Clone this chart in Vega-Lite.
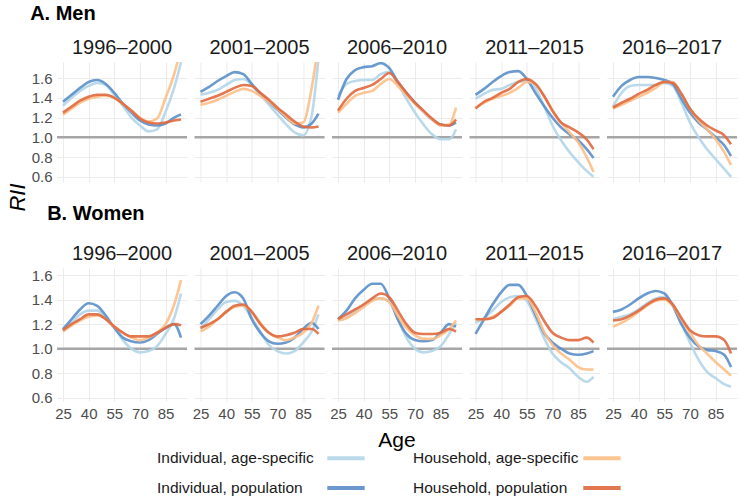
{
"$schema":"https://vega.github.io/schema/vega-lite/v6.json",
"padding":{"left":6,"right":2,"top":4,"bottom":0},
"config":{
 "view":{"stroke":null},
 "font":"Liberation Sans",
 "axis":{"grid":true,"gridColor":"#ebebeb","gridWidth":1,"domain":false,"ticks":false,"labelOverlap":false,"labelSeparation":0,"labelFont":"Liberation Sans","labelFontSize":15,"labelColor":"#4d4d4d","titleFont":"Liberation Sans","titleColor":"#000000","titleFontWeight":"normal"},
 "header":{"labelFont":"Liberation Sans","labelFontSize":20,"labelColor":"#1a1a1a","labelPadding":4,"titleFont":"Liberation Sans","titleFontSize":21,"titleColor":"#000000","titleFontWeight":"normal"},
 "title":{"font":"Liberation Sans","fontSize":20,"fontWeight":"bold","anchor":"start","color":"#000000"}
},
"datasets":{"rii":[
{"sex":"Men","period":"1996–2000","age":25,"Individual, age-specific":1.32,"Individual, population":1.36,"Household, age-specific":1.23,"Household, population":1.25},
{"sex":"Men","period":"1996–2000","age":30,"Individual, age-specific":1.40,"Individual, population":1.43,"Household, age-specific":1.29,"Household, population":1.31},
{"sex":"Men","period":"1996–2000","age":35,"Individual, age-specific":1.47,"Individual, population":1.50,"Household, age-specific":1.35,"Household, population":1.37},
{"sex":"Men","period":"1996–2000","age":40,"Individual, age-specific":1.52,"Individual, population":1.56,"Household, age-specific":1.39,"Household, population":1.41},
{"sex":"Men","period":"1996–2000","age":45,"Individual, age-specific":1.55,"Individual, population":1.58,"Household, age-specific":1.41,"Household, population":1.43},
{"sex":"Men","period":"1996–2000","age":50,"Individual, age-specific":1.53,"Individual, population":1.54,"Household, age-specific":1.42,"Household, population":1.43},
{"sex":"Men","period":"1996–2000","age":55,"Individual, age-specific":1.43,"Individual, population":1.45,"Household, age-specific":1.40,"Household, population":1.40},
{"sex":"Men","period":"1996–2000","age":60,"Individual, age-specific":1.32,"Individual, population":1.34,"Household, age-specific":1.34,"Household, population":1.34},
{"sex":"Men","period":"1996–2000","age":65,"Individual, age-specific":1.20,"Individual, population":1.25,"Household, age-specific":1.27,"Household, population":1.27},
{"sex":"Men","period":"1996–2000","age":70,"Individual, age-specific":1.12,"Individual, population":1.17,"Household, age-specific":1.20,"Household, population":1.19},
{"sex":"Men","period":"1996–2000","age":75,"Individual, age-specific":1.06,"Individual, population":1.13,"Household, age-specific":1.16,"Household, population":1.15},
{"sex":"Men","period":"1996–2000","age":80,"Individual, age-specific":1.08,"Individual, population":1.12,"Household, age-specific":1.19,"Household, population":1.14},
{"sex":"Men","period":"1996–2000","age":85,"Individual, age-specific":1.26,"Individual, population":1.14,"Household, age-specific":1.40,"Household, population":1.15},
{"sex":"Men","period":"1996–2000","age":90,"Individual, age-specific":1.50,"Individual, population":1.20,"Household, age-specific":1.64,"Household, population":1.17},
{"sex":"Men","period":"1996–2000","age":94,"Individual, age-specific":1.76,"Individual, population":1.23,"Household, age-specific":1.90,"Household, population":1.18},
{"sex":"Men","period":"2001–2005","age":25,"Individual, age-specific":1.43,"Individual, population":1.46,"Household, age-specific":1.33,"Household, population":1.36},
{"sex":"Men","period":"2001–2005","age":30,"Individual, age-specific":1.45,"Individual, population":1.51,"Household, age-specific":1.35,"Household, population":1.39},
{"sex":"Men","period":"2001–2005","age":35,"Individual, age-specific":1.48,"Individual, population":1.57,"Household, age-specific":1.38,"Household, population":1.42},
{"sex":"Men","period":"2001–2005","age":40,"Individual, age-specific":1.53,"Individual, population":1.62,"Household, age-specific":1.42,"Household, population":1.46},
{"sex":"Men","period":"2001–2005","age":45,"Individual, age-specific":1.58,"Individual, population":1.66,"Household, age-specific":1.46,"Household, population":1.50},
{"sex":"Men","period":"2001–2005","age":50,"Individual, age-specific":1.59,"Individual, population":1.64,"Household, age-specific":1.49,"Household, population":1.53},
{"sex":"Men","period":"2001–2005","age":55,"Individual, age-specific":1.53,"Individual, population":1.54,"Household, age-specific":1.47,"Household, population":1.52},
{"sex":"Men","period":"2001–2005","age":60,"Individual, age-specific":1.43,"Individual, population":1.44,"Household, age-specific":1.42,"Household, population":1.45},
{"sex":"Men","period":"2001–2005","age":65,"Individual, age-specific":1.33,"Individual, population":1.36,"Household, age-specific":1.36,"Household, population":1.38},
{"sex":"Men","period":"2001–2005","age":70,"Individual, age-specific":1.23,"Individual, population":1.28,"Household, age-specific":1.29,"Household, population":1.30},
{"sex":"Men","period":"2001–2005","age":75,"Individual, age-specific":1.13,"Individual, population":1.20,"Household, age-specific":1.21,"Household, population":1.23},
{"sex":"Men","period":"2001–2005","age":80,"Individual, age-specific":1.05,"Individual, population":1.13,"Household, age-specific":1.14,"Household, population":1.16},
{"sex":"Men","period":"2001–2005","age":85,"Individual, age-specific":1.02,"Individual, population":1.10,"Household, age-specific":1.15,"Household, population":1.11},
{"sex":"Men","period":"2001–2005","age":90,"Individual, age-specific":1.22,"Individual, population":1.14,"Household, age-specific":1.50,"Household, population":1.10},
{"sex":"Men","period":"2001–2005","age":94,"Individual, age-specific":1.80,"Individual, population":1.24,"Household, age-specific":1.95,"Household, population":1.11},
{"sex":"Men","period":"2006–2010","age":25,"Individual, age-specific":1.42,"Individual, population":1.38,"Household, age-specific":1.25,"Household, population":1.27},
{"sex":"Men","period":"2006–2010","age":30,"Individual, age-specific":1.54,"Individual, population":1.59,"Household, age-specific":1.34,"Household, population":1.39},
{"sex":"Men","period":"2006–2010","age":35,"Individual, age-specific":1.57,"Individual, population":1.68,"Household, age-specific":1.42,"Household, population":1.47},
{"sex":"Men","period":"2006–2010","age":40,"Individual, age-specific":1.58,"Individual, population":1.71,"Household, age-specific":1.45,"Household, population":1.50},
{"sex":"Men","period":"2006–2010","age":45,"Individual, age-specific":1.58,"Individual, population":1.72,"Household, age-specific":1.47,"Household, population":1.53},
{"sex":"Men","period":"2006–2010","age":50,"Individual, age-specific":1.64,"Individual, population":1.75,"Household, age-specific":1.54,"Household, population":1.59},
{"sex":"Men","period":"2006–2010","age":55,"Individual, age-specific":1.66,"Individual, population":1.70,"Household, age-specific":1.59,"Household, population":1.65},
{"sex":"Men","period":"2006–2010","age":60,"Individual, age-specific":1.54,"Individual, population":1.56,"Household, age-specific":1.52,"Household, population":1.56},
{"sex":"Men","period":"2006–2010","age":65,"Individual, age-specific":1.39,"Individual, population":1.45,"Household, age-specific":1.43,"Household, population":1.45},
{"sex":"Men","period":"2006–2010","age":70,"Individual, age-specific":1.25,"Individual, population":1.35,"Household, age-specific":1.34,"Household, population":1.35},
{"sex":"Men","period":"2006–2010","age":75,"Individual, age-specific":1.13,"Individual, population":1.26,"Household, age-specific":1.26,"Household, population":1.27},
{"sex":"Men","period":"2006–2010","age":80,"Individual, age-specific":1.03,"Individual, population":1.18,"Household, age-specific":1.18,"Household, population":1.19},
{"sex":"Men","period":"2006–2010","age":85,"Individual, age-specific":0.98,"Individual, population":1.13,"Household, age-specific":1.12,"Household, population":1.13},
{"sex":"Men","period":"2006–2010","age":90,"Individual, age-specific":0.98,"Individual, population":1.12,"Household, age-specific":1.13,"Household, population":1.12},
{"sex":"Men","period":"2006–2010","age":94,"Individual, age-specific":1.08,"Individual, population":1.15,"Household, age-specific":1.30,"Household, population":1.18},
{"sex":"Men","period":"2011–2015","age":25,"Individual, age-specific":1.39,"Individual, population":1.43,"Household, age-specific":1.30,"Household, population":1.29},
{"sex":"Men","period":"2011–2015","age":30,"Individual, age-specific":1.44,"Individual, population":1.49,"Household, age-specific":1.35,"Household, population":1.36},
{"sex":"Men","period":"2011–2015","age":35,"Individual, age-specific":1.48,"Individual, population":1.56,"Household, age-specific":1.39,"Household, population":1.40},
{"sex":"Men","period":"2011–2015","age":40,"Individual, age-specific":1.49,"Individual, population":1.62,"Household, age-specific":1.42,"Household, population":1.45},
{"sex":"Men","period":"2011–2015","age":45,"Individual, age-specific":1.53,"Individual, population":1.66,"Household, age-specific":1.45,"Household, population":1.49},
{"sex":"Men","period":"2011–2015","age":50,"Individual, age-specific":1.56,"Individual, population":1.67,"Household, age-specific":1.50,"Household, population":1.56},
{"sex":"Men","period":"2011–2015","age":55,"Individual, age-specific":1.57,"Individual, population":1.59,"Household, age-specific":1.56,"Household, population":1.59},
{"sex":"Men","period":"2011–2015","age":60,"Individual, age-specific":1.50,"Individual, population":1.45,"Household, age-specific":1.54,"Household, population":1.54},
{"sex":"Men","period":"2011–2015","age":65,"Individual, age-specific":1.32,"Individual, population":1.32,"Household, age-specific":1.42,"Household, population":1.42},
{"sex":"Men","period":"2011–2015","age":70,"Individual, age-specific":1.12,"Individual, population":1.20,"Household, age-specific":1.27,"Household, population":1.27},
{"sex":"Men","period":"2011–2015","age":75,"Individual, age-specific":0.97,"Individual, population":1.10,"Household, age-specific":1.15,"Household, population":1.15},
{"sex":"Men","period":"2011–2015","age":80,"Individual, age-specific":0.85,"Individual, population":1.03,"Household, age-specific":1.05,"Household, population":1.10},
{"sex":"Men","period":"2011–2015","age":85,"Individual, age-specific":0.75,"Individual, population":0.97,"Household, age-specific":0.95,"Household, population":1.05},
{"sex":"Men","period":"2011–2015","age":90,"Individual, age-specific":0.66,"Individual, population":0.88,"Household, age-specific":0.80,"Household, population":0.98},
{"sex":"Men","period":"2011–2015","age":94,"Individual, age-specific":0.60,"Individual, population":0.79,"Household, age-specific":0.65,"Household, population":0.88},
{"sex":"Men","period":"2016–2017","age":25,"Individual, age-specific":1.31,"Individual, population":1.41,"Household, age-specific":1.29,"Household, population":1.30},
{"sex":"Men","period":"2016–2017","age":30,"Individual, age-specific":1.45,"Individual, population":1.52,"Household, age-specific":1.33,"Household, population":1.35},
{"sex":"Men","period":"2016–2017","age":35,"Individual, age-specific":1.52,"Individual, population":1.58,"Household, age-specific":1.37,"Household, population":1.39},
{"sex":"Men","period":"2016–2017","age":40,"Individual, age-specific":1.53,"Individual, population":1.61,"Household, age-specific":1.41,"Household, population":1.44},
{"sex":"Men","period":"2016–2017","age":45,"Individual, age-specific":1.53,"Individual, population":1.61,"Household, age-specific":1.45,"Household, population":1.48},
{"sex":"Men","period":"2016–2017","age":50,"Individual, age-specific":1.53,"Individual, population":1.60,"Household, age-specific":1.50,"Household, population":1.53},
{"sex":"Men","period":"2016–2017","age":55,"Individual, age-specific":1.55,"Individual, population":1.58,"Household, age-specific":1.56,"Household, population":1.56},
{"sex":"Men","period":"2016–2017","age":60,"Individual, age-specific":1.52,"Individual, population":1.54,"Household, age-specific":1.56,"Household, population":1.55},
{"sex":"Men","period":"2016–2017","age":65,"Individual, age-specific":1.35,"Individual, population":1.39,"Household, age-specific":1.44,"Household, population":1.44},
{"sex":"Men","period":"2016–2017","age":70,"Individual, age-specific":1.15,"Individual, population":1.25,"Household, age-specific":1.29,"Household, population":1.29},
{"sex":"Men","period":"2016–2017","age":75,"Individual, age-specific":1.00,"Individual, population":1.15,"Household, age-specific":1.17,"Household, population":1.19},
{"sex":"Men","period":"2016–2017","age":80,"Individual, age-specific":0.88,"Individual, population":1.08,"Household, age-specific":1.08,"Household, population":1.12},
{"sex":"Men","period":"2016–2017","age":85,"Individual, age-specific":0.78,"Individual, population":1.00,"Household, age-specific":0.98,"Household, population":1.07},
{"sex":"Men","period":"2016–2017","age":90,"Individual, age-specific":0.68,"Individual, population":0.92,"Household, age-specific":0.85,"Household, population":1.02},
{"sex":"Men","period":"2016–2017","age":94,"Individual, age-specific":0.60,"Individual, population":0.81,"Household, age-specific":0.72,"Household, population":0.93},
{"sex":"Women","period":"1996–2000","age":25,"Individual, age-specific":1.15,"Individual, population":1.16,"Household, age-specific":1.14,"Household, population":1.15},
{"sex":"Women","period":"1996–2000","age":30,"Individual, age-specific":1.21,"Individual, population":1.24,"Household, age-specific":1.19,"Household, population":1.20},
{"sex":"Women","period":"1996–2000","age":35,"Individual, age-specific":1.28,"Individual, population":1.32,"Household, age-specific":1.23,"Household, population":1.24},
{"sex":"Women","period":"1996–2000","age":40,"Individual, age-specific":1.31,"Individual, population":1.37,"Household, age-specific":1.26,"Household, population":1.28},
{"sex":"Women","period":"1996–2000","age":45,"Individual, age-specific":1.31,"Individual, population":1.35,"Household, age-specific":1.27,"Household, population":1.28},
{"sex":"Women","period":"1996–2000","age":50,"Individual, age-specific":1.25,"Individual, population":1.27,"Household, age-specific":1.24,"Household, population":1.24},
{"sex":"Women","period":"1996–2000","age":55,"Individual, age-specific":1.17,"Individual, population":1.17,"Household, age-specific":1.18,"Household, population":1.18},
{"sex":"Women","period":"1996–2000","age":60,"Individual, age-specific":1.07,"Individual, population":1.09,"Household, age-specific":1.13,"Household, population":1.13},
{"sex":"Women","period":"1996–2000","age":65,"Individual, age-specific":1.00,"Individual, population":1.06,"Household, age-specific":1.09,"Household, population":1.10},
{"sex":"Women","period":"1996–2000","age":70,"Individual, age-specific":0.97,"Individual, population":1.05,"Household, age-specific":1.07,"Household, population":1.10},
{"sex":"Women","period":"1996–2000","age":75,"Individual, age-specific":0.98,"Individual, population":1.07,"Household, age-specific":1.09,"Household, population":1.10},
{"sex":"Women","period":"1996–2000","age":80,"Individual, age-specific":1.02,"Individual, population":1.12,"Household, age-specific":1.13,"Household, population":1.13},
{"sex":"Women","period":"1996–2000","age":85,"Individual, age-specific":1.12,"Individual, population":1.17,"Household, age-specific":1.20,"Household, population":1.17},
{"sex":"Women","period":"1996–2000","age":90,"Individual, age-specific":1.25,"Individual, population":1.20,"Household, age-specific":1.36,"Household, population":1.20},
{"sex":"Women","period":"1996–2000","age":94,"Individual, age-specific":1.45,"Individual, population":1.09,"Household, age-specific":1.56,"Household, population":1.19},
{"sex":"Women","period":"2001–2005","age":25,"Individual, age-specific":1.16,"Individual, population":1.20,"Household, age-specific":1.14,"Household, population":1.17},
{"sex":"Women","period":"2001–2005","age":30,"Individual, age-specific":1.24,"Individual, population":1.27,"Household, age-specific":1.18,"Household, population":1.20},
{"sex":"Women","period":"2001–2005","age":35,"Individual, age-specific":1.32,"Individual, population":1.35,"Household, age-specific":1.24,"Household, population":1.24},
{"sex":"Women","period":"2001–2005","age":40,"Individual, age-specific":1.38,"Individual, population":1.43,"Household, age-specific":1.30,"Household, population":1.30},
{"sex":"Women","period":"2001–2005","age":45,"Individual, age-specific":1.39,"Individual, population":1.46,"Household, age-specific":1.34,"Household, population":1.35},
{"sex":"Women","period":"2001–2005","age":50,"Individual, age-specific":1.35,"Individual, population":1.41,"Household, age-specific":1.35,"Household, population":1.36},
{"sex":"Women","period":"2001–2005","age":55,"Individual, age-specific":1.25,"Individual, population":1.24,"Household, age-specific":1.30,"Household, population":1.30},
{"sex":"Women","period":"2001–2005","age":60,"Individual, age-specific":1.14,"Individual, population":1.13,"Household, age-specific":1.21,"Household, population":1.20},
{"sex":"Women","period":"2001–2005","age":65,"Individual, age-specific":1.03,"Individual, population":1.06,"Household, age-specific":1.13,"Household, population":1.13},
{"sex":"Women","period":"2001–2005","age":70,"Individual, age-specific":0.98,"Individual, population":1.04,"Household, age-specific":1.09,"Household, population":1.10},
{"sex":"Women","period":"2001–2005","age":75,"Individual, age-specific":0.96,"Individual, population":1.05,"Household, age-specific":1.07,"Household, population":1.11},
{"sex":"Women","period":"2001–2005","age":80,"Individual, age-specific":0.98,"Individual, population":1.09,"Household, age-specific":1.09,"Household, population":1.13},
{"sex":"Women","period":"2001–2005","age":85,"Individual, age-specific":1.05,"Individual, population":1.16,"Household, age-specific":1.13,"Household, population":1.16},
{"sex":"Women","period":"2001–2005","age":90,"Individual, age-specific":1.14,"Individual, population":1.21,"Household, age-specific":1.21,"Household, population":1.16},
{"sex":"Women","period":"2001–2005","age":94,"Individual, age-specific":1.28,"Individual, population":1.16,"Household, age-specific":1.35,"Household, population":1.12},
{"sex":"Women","period":"2006–2010","age":25,"Individual, age-specific":1.23,"Individual, population":1.24,"Household, age-specific":1.23,"Household, population":1.24},
{"sex":"Women","period":"2006–2010","age":30,"Individual, age-specific":1.25,"Individual, population":1.31,"Household, age-specific":1.25,"Household, population":1.28},
{"sex":"Women","period":"2006–2010","age":35,"Individual, age-specific":1.31,"Individual, population":1.41,"Household, age-specific":1.29,"Household, population":1.32},
{"sex":"Women","period":"2006–2010","age":40,"Individual, age-specific":1.36,"Individual, population":1.48,"Household, age-specific":1.34,"Household, population":1.36},
{"sex":"Women","period":"2006–2010","age":45,"Individual, age-specific":1.40,"Individual, population":1.53,"Household, age-specific":1.39,"Household, population":1.41},
{"sex":"Women","period":"2006–2010","age":50,"Individual, age-specific":1.41,"Individual, population":1.53,"Household, age-specific":1.41,"Household, population":1.45},
{"sex":"Women","period":"2006–2010","age":55,"Individual, age-specific":1.38,"Individual, population":1.41,"Household, age-specific":1.38,"Household, population":1.42},
{"sex":"Women","period":"2006–2010","age":60,"Individual, age-specific":1.24,"Individual, population":1.24,"Household, age-specific":1.27,"Household, population":1.31},
{"sex":"Women","period":"2006–2010","age":65,"Individual, age-specific":1.09,"Individual, population":1.12,"Household, age-specific":1.17,"Household, population":1.20},
{"sex":"Women","period":"2006–2010","age":70,"Individual, age-specific":1.00,"Individual, population":1.07,"Household, age-specific":1.11,"Household, population":1.13},
{"sex":"Women","period":"2006–2010","age":75,"Individual, age-specific":0.97,"Individual, population":1.06,"Household, age-specific":1.08,"Household, population":1.12},
{"sex":"Women","period":"2006–2010","age":80,"Individual, age-specific":0.98,"Individual, population":1.07,"Household, age-specific":1.08,"Household, population":1.12},
{"sex":"Women","period":"2006–2010","age":85,"Individual, age-specific":1.02,"Individual, population":1.13,"Household, age-specific":1.11,"Household, population":1.13},
{"sex":"Women","period":"2006–2010","age":90,"Individual, age-specific":1.12,"Individual, population":1.20,"Household, age-specific":1.16,"Household, population":1.16},
{"sex":"Women","period":"2006–2010","age":94,"Individual, age-specific":1.21,"Individual, population":1.18,"Household, age-specific":1.23,"Household, population":1.14},
{"sex":"Women","period":"2011–2015","age":25,"Individual, age-specific":1.21,"Individual, population":1.12,"Household, age-specific":1.24,"Household, population":1.24},
{"sex":"Women","period":"2011–2015","age":30,"Individual, age-specific":1.25,"Individual, population":1.24,"Household, age-specific":1.24,"Household, population":1.24},
{"sex":"Women","period":"2011–2015","age":35,"Individual, age-specific":1.31,"Individual, population":1.36,"Household, age-specific":1.26,"Household, population":1.25},
{"sex":"Women","period":"2011–2015","age":40,"Individual, age-specific":1.38,"Individual, population":1.46,"Household, age-specific":1.30,"Household, population":1.30},
{"sex":"Women","period":"2011–2015","age":45,"Individual, age-specific":1.42,"Individual, population":1.52,"Household, age-specific":1.35,"Household, population":1.36},
{"sex":"Women","period":"2011–2015","age":50,"Individual, age-specific":1.43,"Individual, population":1.52,"Household, age-specific":1.41,"Household, population":1.42},
{"sex":"Women","period":"2011–2015","age":55,"Individual, age-specific":1.39,"Individual, population":1.43,"Household, age-specific":1.41,"Household, population":1.43},
{"sex":"Women","period":"2011–2015","age":60,"Individual, age-specific":1.25,"Individual, population":1.28,"Household, age-specific":1.30,"Household, population":1.35},
{"sex":"Women","period":"2011–2015","age":65,"Individual, age-specific":1.09,"Individual, population":1.13,"Household, age-specific":1.14,"Household, population":1.23},
{"sex":"Women","period":"2011–2015","age":70,"Individual, age-specific":0.96,"Individual, population":1.05,"Household, age-specific":1.03,"Household, population":1.13},
{"sex":"Women","period":"2011–2015","age":75,"Individual, age-specific":0.89,"Individual, population":1.00,"Household, age-specific":0.96,"Household, population":1.09},
{"sex":"Women","period":"2011–2015","age":80,"Individual, age-specific":0.84,"Individual, population":0.96,"Household, age-specific":0.91,"Household, population":1.07},
{"sex":"Women","period":"2011–2015","age":85,"Individual, age-specific":0.77,"Individual, population":0.95,"Household, age-specific":0.85,"Household, population":1.07},
{"sex":"Women","period":"2011–2015","age":90,"Individual, age-specific":0.73,"Individual, population":0.96,"Household, age-specific":0.83,"Household, population":1.09},
{"sex":"Women","period":"2011–2015","age":94,"Individual, age-specific":0.77,"Individual, population":0.98,"Household, age-specific":0.83,"Household, population":1.05},
{"sex":"Women","period":"2016–2017","age":25,"Individual, age-specific":1.24,"Individual, population":1.30,"Household, age-specific":1.18,"Household, population":1.23},
{"sex":"Women","period":"2016–2017","age":30,"Individual, age-specific":1.26,"Individual, population":1.32,"Household, age-specific":1.21,"Household, population":1.24},
{"sex":"Women","period":"2016–2017","age":35,"Individual, age-specific":1.28,"Individual, population":1.36,"Household, age-specific":1.25,"Household, population":1.27},
{"sex":"Women","period":"2016–2017","age":40,"Individual, age-specific":1.32,"Individual, population":1.41,"Household, age-specific":1.30,"Household, population":1.31},
{"sex":"Women","period":"2016–2017","age":45,"Individual, age-specific":1.37,"Individual, population":1.45,"Household, age-specific":1.35,"Household, population":1.36},
{"sex":"Women","period":"2016–2017","age":50,"Individual, age-specific":1.41,"Individual, population":1.47,"Household, age-specific":1.39,"Household, population":1.40},
{"sex":"Women","period":"2016–2017","age":55,"Individual, age-specific":1.42,"Individual, population":1.45,"Household, age-specific":1.40,"Household, population":1.41},
{"sex":"Women","period":"2016–2017","age":60,"Individual, age-specific":1.36,"Individual, population":1.35,"Household, age-specific":1.35,"Household, population":1.36},
{"sex":"Women","period":"2016–2017","age":65,"Individual, age-specific":1.21,"Individual, population":1.20,"Household, age-specific":1.24,"Household, population":1.25},
{"sex":"Women","period":"2016–2017","age":70,"Individual, age-specific":1.05,"Individual, population":1.09,"Household, age-specific":1.13,"Household, population":1.15},
{"sex":"Women","period":"2016–2017","age":75,"Individual, age-specific":0.91,"Individual, population":1.02,"Household, age-specific":1.03,"Household, population":1.11},
{"sex":"Women","period":"2016–2017","age":80,"Individual, age-specific":0.81,"Individual, population":0.99,"Household, age-specific":0.96,"Household, population":1.10},
{"sex":"Women","period":"2016–2017","age":85,"Individual, age-specific":0.76,"Individual, population":0.98,"Household, age-specific":0.89,"Household, population":1.10},
{"sex":"Women","period":"2016–2017","age":90,"Individual, age-specific":0.71,"Individual, population":0.95,"Household, age-specific":0.83,"Household, population":1.07},
{"sex":"Women","period":"2016–2017","age":94,"Individual, age-specific":0.69,"Individual, population":0.85,"Household, age-specific":0.78,"Household, population":0.96}
]},
"vconcat":[
 {
  "title":{"text":"A. Men","dx":24,"offset":14},
  "data":{"name":"rii"},
  "transform":[{"filter":"datum.sex === 'Men'"}],
  "facet":{"column":{"field":"period","type":"nominal","title":null}},
  "spacing":7.5,
  "bounds":"flush",
  "spec":{
   "width":130,"height":120,
   "layer":[
    {"transform":[{"filter":"datum.age === 25"}],
     "mark":{"type":"rule","color":"#a6a6a6","strokeWidth":2.5},
     "encoding":{"y":{"datum":1,"type":"quantitative","scale":{"domain":[0.548,1.762],"nice":false,"zero":false},"axis":{"values":[0.6,0.8,1.0,1.2,1.4,1.6],"format":".1f","labelOverlap":false,"labelFlush":false,"labelPadding":5,"title":"RII","titleFontStyle":"italic","titleFontSize":22,"titleY":135,"titlePadding":2}}}},
    {"transform":[{"fold":["Individual, age-specific","Individual, population","Household, age-specific","Household, population"],"as":["measure","value"]}],
     "mark":{"type":"line","interpolate":"monotone","strokeWidth":2.6,"opacity":0.9,"clip":true},
     "encoding":{
      "x":{"field":"age","type":"quantitative","scale":{"domain":[21.5,97.5],"nice":false,"zero":false},"axis":{"values":[25,40,55,70,85],"labels":false,"title":null}},
      "y":{"field":"value","type":"quantitative","scale":{"domain":[0.548,1.762],"nice":false,"zero":false},"axis":{"values":[0.6,0.8,1.0,1.2,1.4,1.6],"format":".1f","labelOverlap":false,"labelFlush":false,"labelPadding":5,"title":"RII","titleFontStyle":"italic","titleFontSize":22,"titleY":135,"titlePadding":2}},
      "color":{"field":"measure","type":"nominal","scale":{"domain":["Individual, age-specific","Individual, population","Household, age-specific","Household, population"],"range":["#b3d5e8","#5b8fc9","#fdbf87","#e0693f"]},
        "legend":{"title":null,"orient":"none","legendX":268,"legendY":375,"columns":2,"symbolType":"M-1,0H1","symbolSize":1400,"symbolStrokeWidth":4,"labelAlign":"left","labelOffset":-210,"labelFont":"Liberation Sans","labelFontSize":15.5,"labelColor":"#1a1a1a","labelLimit":300,"columnPadding":40,"rowPadding":-16}}
     }}
   ]
  }
 },
 {
  "title":{"text":"B. Women","dx":16,"offset":20},
  "data":{"name":"rii"},
  "transform":[{"filter":"datum.sex === 'Women'"}],
  "facet":{"column":{"field":"period","type":"nominal","title":"Age","header":{"titleOrient":"bottom","labelOrient":"top","titlePadding":-1}}},
  "spacing":7.5,
  "bounds":"flush",
  "spec":{
   "width":130,"height":133,
   "layer":[
    {"transform":[{"filter":"datum.age === 25"}],
     "mark":{"type":"rule","color":"#a6a6a6","strokeWidth":2.5},
     "encoding":{"y":{"datum":1,"type":"quantitative","scale":{"domain":[0.573,1.658],"nice":false,"zero":false},"axis":{"values":[0.6,0.8,1.0,1.2,1.4,1.6],"format":".1f","labelOverlap":false,"labelFlush":false,"labelPadding":5,"title":null}}}},
    {"transform":[{"fold":["Individual, age-specific","Individual, population","Household, age-specific","Household, population"],"as":["measure","value"]}],
     "mark":{"type":"line","interpolate":"monotone","strokeWidth":2.6,"opacity":0.9,"clip":true},
     "encoding":{
      "x":{"field":"age","type":"quantitative","scale":{"domain":[21.5,97.5],"nice":false,"zero":false},"axis":{"values":[25,40,55,70,85],"labelPadding":5,"title":null}},
      "y":{"field":"value","type":"quantitative","scale":{"domain":[0.573,1.658],"nice":false,"zero":false},"axis":{"values":[0.6,0.8,1.0,1.2,1.4,1.6],"format":".1f","labelOverlap":false,"labelFlush":false,"labelPadding":5,"title":null}},
      "color":{"field":"measure","type":"nominal","scale":{"domain":["Individual, age-specific","Individual, population","Household, age-specific","Household, population"],"range":["#b3d5e8","#5b8fc9","#fdbf87","#e0693f"]},
        "legend":{"title":null,"orient":"none","legendX":268,"legendY":375,"columns":2,"symbolType":"M-1,0H1","symbolSize":1400,"symbolStrokeWidth":4,"labelAlign":"left","labelOffset":-210,"labelFont":"Liberation Sans","labelFontSize":15.5,"labelColor":"#1a1a1a","labelLimit":300,"columnPadding":40,"rowPadding":-16}}
     }}
   ]
  }
 }
],
"spacing":-8,
"resolve":{"scale":{"color":"shared"}}
}
